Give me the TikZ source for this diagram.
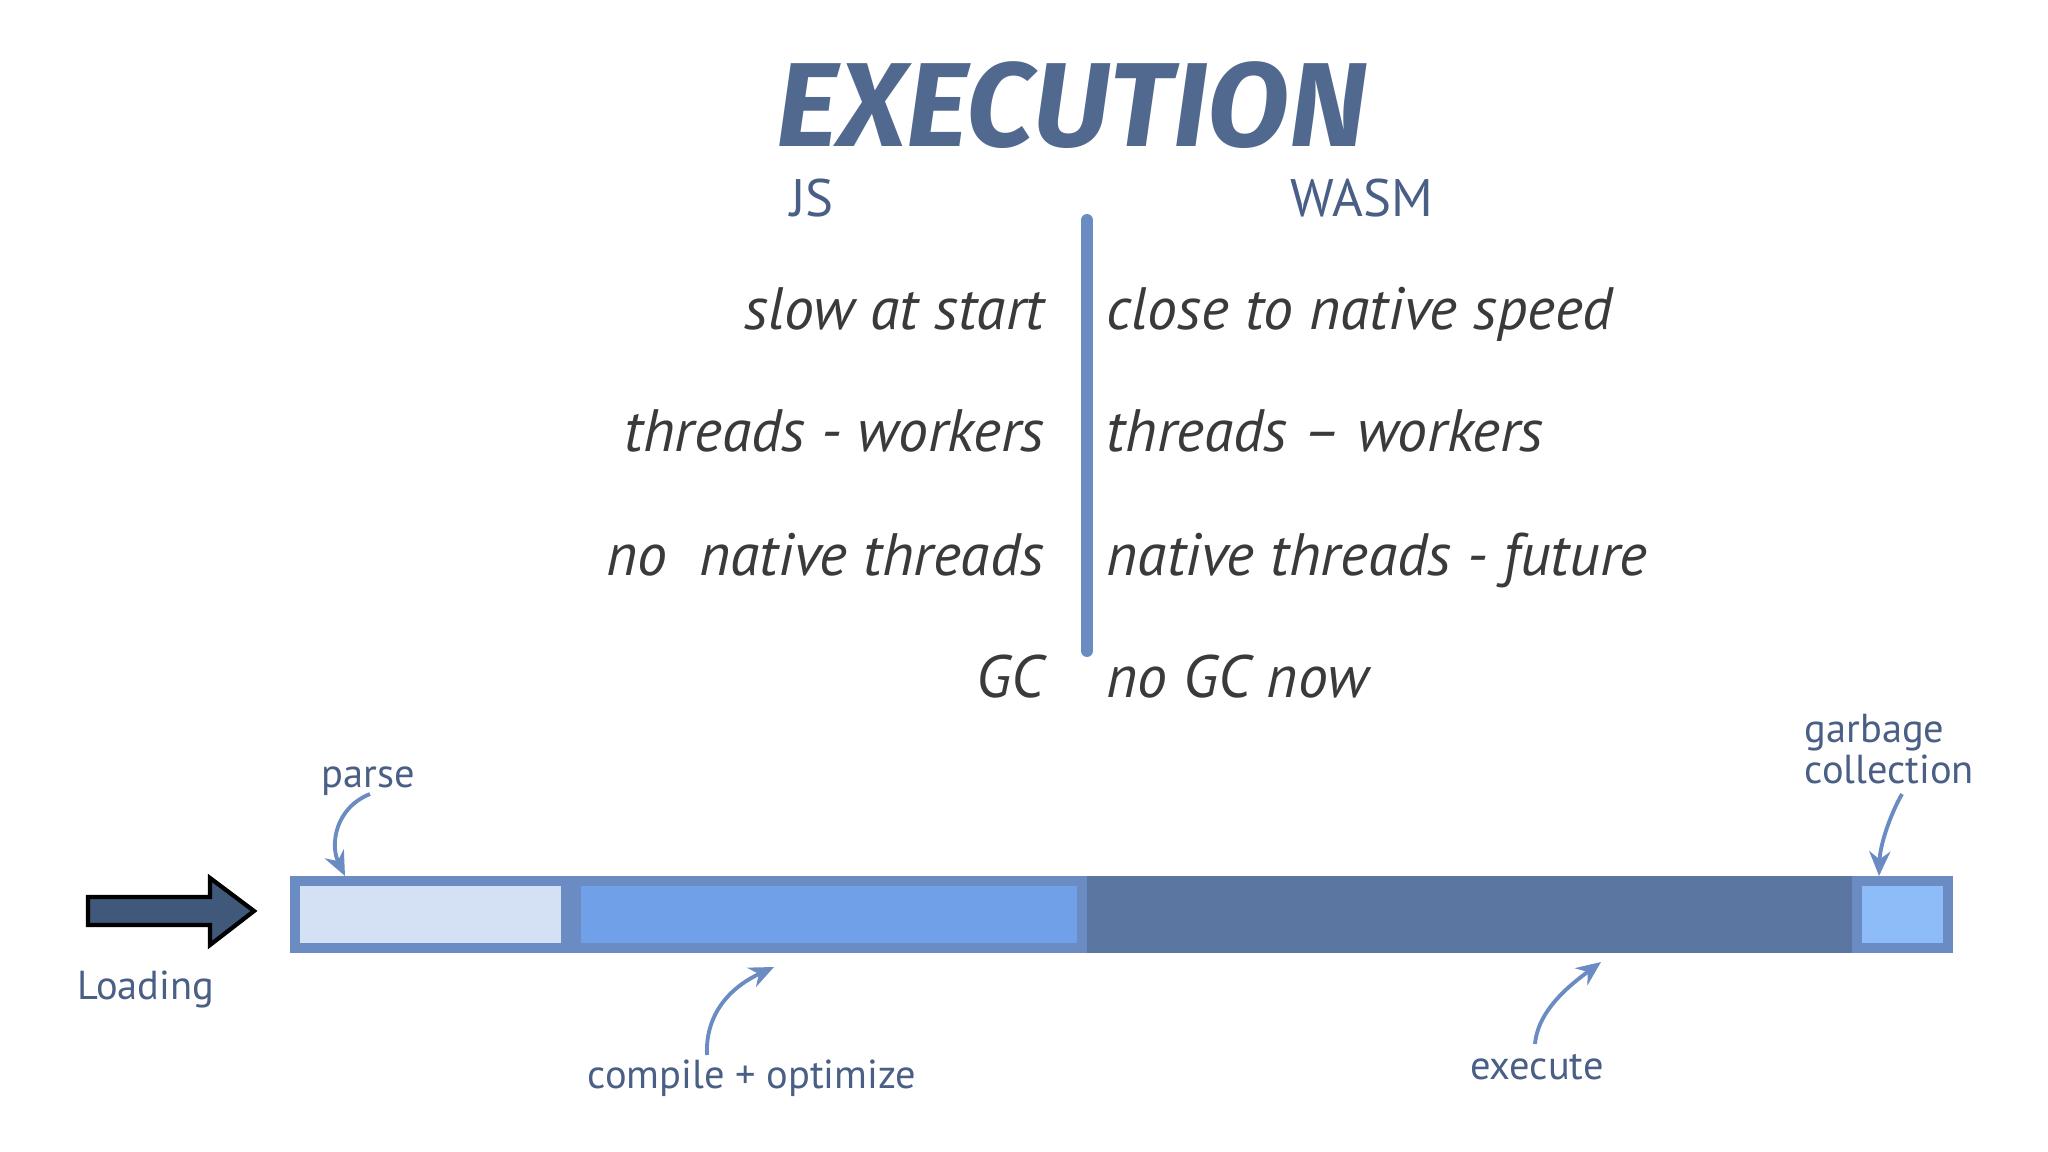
\documentclass[tikz,border=0pt]{standalone}
\usepackage{fontspec}
\setmainfont{PT Sans}
\newfontfamily\titlefont{Fira Sans}
\usetikzlibrary{arrows.meta}
\definecolor{titlecol}{HTML}{52698F}
\definecolor{headcol}{HTML}{4A5F85}
\definecolor{listcol}{HTML}{3A3A3A}
\definecolor{linecol}{HTML}{6B8CC2}
\definecolor{parsecol}{HTML}{D4E1F5}
\definecolor{compcol}{HTML}{6FA0E8}
\definecolor{execcol}{HTML}{5B76A1}
\definecolor{gccol}{HTML}{8EBCF8}
\definecolor{loadcol}{HTML}{40587A}
\tikzset{
  titletext/.style={text=titlecol, font=\titlefont\fontsize{34}{34}\selectfont\bfseries\itshape, inner sep=0pt},
  headtext/.style={text=headcol, font=\fontsize{15}{15}\selectfont, inner sep=0pt},
  listtext/.style={text=listcol, font=\fontsize{17}{17}\selectfont\itshape, inner sep=0pt},
  labeltext/.style={text=headcol, font=\fontsize{11.5}{11.5}\selectfont, inner sep=0pt},
  seg/.style={draw=linecol, line width=2.8pt, inner sep=0pt, minimum height=0.67cm},
  callout/.style={draw=linecol, line width=1.1pt, -{Stealth[length=7pt,width=6pt]}},
}
\begin{document}
\begin{tikzpicture}[x=0.01cm,y=-0.01cm]
\useasboundingbox[fill=white] (0,0) rectangle (2048,1152);
% title and headers
\node[titletext] (title) at (1072,105) {EXECUTION};
\node[headtext, anchor=base] (js) at (812,217) {JS};
\node[headtext, anchor=base] (wasm) at (1362,217) {WASM};
% divider
\coordinate (divtop) at (1087,220);
\coordinate (divbot) at (1087,651);
\draw[linecol, line width=3.4pt, line cap=round] (divtop) -- (divbot);
% left column
\node[listtext, anchor=base east] (l1) at (1045,330) {slow at start};
\node[listtext, anchor=base east] (l2) at (1045,452) {threads - workers};
\node[listtext, anchor=base east] (l3) at (1045,575) {no\ \ native threads};
\node[listtext, anchor=base east] (l4) at (1045,697) {GC};
% right column
\node[listtext, anchor=base west] (r1) at (1106,330) {close to native speed};
\node[listtext, anchor=base west] (r2) at (1106,452) {threads – workers};
\node[listtext, anchor=base west] (r3) at (1106,575) {native threads - future};
\node[listtext, anchor=base west] (r4) at (1106,697) {no GC now};
% bar
\node[seg, fill=parsecol, minimum width=2.71cm] (parse) at (430.5,914.5) {};
\node[seg, fill=compcol, minimum width=5.06cm] (compile) at (829,914.5) {};
\node[seg, draw=execcol, fill=execcol, minimum width=7.55cm] (execute) at (1469.5,914.5) {};
\node[seg, fill=gccol, minimum width=0.91cm] (gc) at (1902.5,914.5) {};
% loading arrow
\node[labeltext, anchor=base] (loading) at (146,999) {Loading};
\draw[fill=loadcol, draw=black, line width=1.2pt, line join=miter]
  (88,897) -- (210,897) -- (210,878) -- (254,911) -- (210,945) -- (210,925) -- (88,925) -- cycle;
% labels
\node[labeltext, anchor=base] (parselbl) at (368,787) {parse};
\node[labeltext, anchor=base] (complbl) at (752,1088) {compile + optimize};
\node[labeltext, anchor=base] (execlbl) at (1537,1079) {execute};
\node[labeltext, anchor=base west, align=left] (gclbl) at (1804,783) {garbage\\collection};
% callouts
\coordinate (parsestart) at (370,794);
\coordinate (parsetip) at (345,876);
\coordinate (compstart) at (707,1055);
\coordinate (comptip) at (774,967);
\coordinate (execstart) at (1535,1044);
\coordinate (exectip) at (1601,962);
\coordinate (gcstart) at (1902,794);
\coordinate (gctip) at (1879,876);
\draw[callout] (parsestart) .. controls (335,808) and (330,845) .. (parsetip);
\draw[callout] (compstart) .. controls (705,1010) and (735,985) .. (comptip);
\draw[callout] (execstart) .. controls (1538,1010) and (1570,985) .. (exectip);
\draw[callout] (gcstart) .. controls (1890,815) and (1880,845) .. (gctip);
\end{tikzpicture}
\end{document}
